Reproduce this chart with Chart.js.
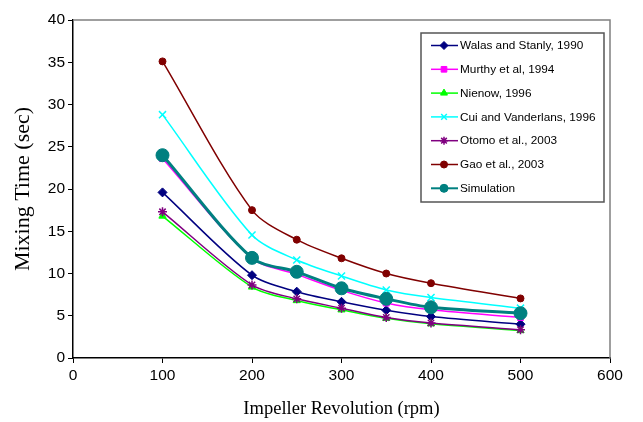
<!DOCTYPE html>
<html><head><meta charset="utf-8">
<script src="https://cdn.jsdelivr.net/npm/chart.js@4"></script>
<style>html,body{margin:0;padding:0;background:#fff}#wrap{width:643px;height:422px}</style>
</head><body><div id="wrap"><canvas id="c" width="643" height="422"></canvas></div>
<script>
// ---- data ----
const rpm = [100, 200, 250, 300, 350, 400, 500];
const seriesLabels = ['Walas and Stanly, 1990', 'Murthy et al, 1994', 'Nienow, 1996', 'Cui and Vanderlans, 1996', 'Otomo et al., 2003', 'Gao et al., 2003', 'Simulation'];
const walas      = [19.6, 9.8, 7.85, 6.65, 5.65, 4.9, 4.0];
const murthy     = [23.6, 11.8, 9.9, 8.0, 6.5, 5.7, 4.8];
const nienow     = [16.8, 8.4, 6.8, 5.7, 4.7, 4.05, 3.25];
const cui        = [28.8, 14.55, 11.6, 9.7, 8.05, 7.15, 5.9];
const otomo      = [17.3, 8.65, 7.0, 5.9, 4.8, 4.15, 3.35];
const gao        = [35.1, 17.5, 14.0, 11.8, 10.0, 8.85, 7.05];
const simulation = [24.0, 11.85, 10.2, 8.25, 7.0, 6.0, 5.3];
const xTickValues = [0, 100, 200, 300, 400, 500, 600];
const yTickValues = [0, 5, 10, 15, 20, 25, 30, 35, 40];
const xTitle = 'Impeller Revolution (rpm)';
const yTitle = 'Mixing Time (sec)';

// ---- styles ----
const seriesValues = [walas, murthy, nienow, cui, otomo, gao, simulation];
const styles = [
  {color:'#000080', point:'rectRot', r:4.5, bw:1, lw:1.5},
  {color:'#ff00ff', point:'rect', r:4.2, bw:1, lw:1.5},
  {color:'#00ff00', point:'triangle', r:4.2, bw:1, lw:1.5},
  {color:'#00ffff', point:'crossRot', r:5, bw:1.5, lw:1.5},
  {color:'#800080', point:'star', r:4.5, bw:1.5, lw:1.5},
  {color:'#800000', point:'circle', r:3.5, bw:1, lw:1.5},
  {color:'#008080', point:'circle', r:6.5, bw:1, lw:3}
];

const datasets = seriesLabels.map((label, i) => ({
  label,
  data: rpm.map((x, j) => ({x, y: seriesValues[i][j]})),
  borderColor: styles[i].color,
  backgroundColor: styles[i].color,
  pointBackgroundColor: styles[i].color,
  pointBorderColor: styles[i].color,
  pointStyle: styles[i].point,
  pointRadius: styles[i].r,
  pointBorderWidth: styles[i].bw,
  borderWidth: styles[i].lw,
  tension: 0.3,
  fill: false,
  order: seriesLabels.length - i
}));

const framePlugin = {
  id: 'frame',
  beforeDatasetsDraw(chart) {
    const {ctx, chartArea: a} = chart;
    ctx.save();
    ctx.strokeStyle = '#808080';
    ctx.lineWidth = 1.5;
    ctx.beginPath();
    ctx.moveTo(a.left, a.top);
    ctx.lineTo(a.right, a.top);
    ctx.lineTo(a.right, a.bottom);
    ctx.stroke();
    ctx.restore();
  }
};

const legendPlugin = {
  id: 'boxLegend',
  afterDraw(chart) {
    const {ctx, chartArea: a} = chart;
    const bx = a.right - 189, by = a.top + 13, bw = 183, bh = 169;
    ctx.save();
    ctx.fillStyle = '#fff';
    ctx.fillRect(bx, by, bw, bh);
    ctx.strokeStyle = '#555';
    ctx.lineWidth = 1.5;
    ctx.strokeRect(bx, by, bw, bh);
    chart.data.datasets.forEach((ds, i) => {
      const y = by + 12.5 + i * 23.8;
      ctx.strokeStyle = ds.borderColor;
      ctx.lineWidth = Math.min(ds.borderWidth, 2);
      ctx.beginPath();
      ctx.moveTo(bx + 10, y);
      ctx.lineTo(bx + 37, y);
      ctx.stroke();
      ctx.fillStyle = ds.pointBackgroundColor;
      ctx.strokeStyle = ds.pointBorderColor;
      ctx.lineWidth = ds.pointBorderWidth;
      Chart.helpers.drawPoint(ctx, {pointStyle: ds.pointStyle, radius: Math.min(ds.pointRadius, 4), rotation: 0, borderWidth: ds.pointBorderWidth}, bx + 23, y);
      ctx.fillStyle = '#000';
      ctx.font = '11.8px "Liberation Sans", Arial, sans-serif';
      ctx.textBaseline = 'middle';
      ctx.textAlign = 'left';
      ctx.fillText(ds.label, bx + 39, y + 0.5);
    });
    ctx.restore();
  }
};

new Chart(document.getElementById('c'), {
  type: 'line',
  data: {datasets},
  options: {
    responsive: false,
    animation: false,
    devicePixelRatio: 1,
    layout: {padding: {top: 20, right: 33, left: 0, bottom: 0}},
    plugins: {legend: {display: false}, tooltip: {enabled: false}},
    scales: {
      x: {
        type: 'linear', min: 0, max: 600,
        afterBuildTicks: s => { s.ticks = xTickValues.map(v => ({value: v})); },
        afterFit: s => { s.height = 64; },
        grid: {drawOnChartArea: false, drawTicks: true, tickLength: 5, color: '#000', tickWidth: 1},
        border: {color: '#000', width: 1.5},
        ticks: {color: '#000', padding: 3, font: {family: '"Liberation Sans", Arial, sans-serif', size: 15.5}, maxRotation: 0},
        title: {display: true, text: xTitle, color: '#000', padding: {top: 0, bottom: 2}, font: {family: '"Liberation Serif", "Times New Roman", serif', size: 18.5}}
      },
      y: {
        type: 'linear', min: 0, max: 40,
        afterBuildTicks: s => { s.ticks = yTickValues.map(v => ({value: v})); },
        afterFit: s => { s.width = 73; },
        grid: {drawOnChartArea: false, drawTicks: true, tickLength: 5, color: '#000', tickWidth: 1},
        border: {color: '#000', width: 1.5},
        ticks: {color: '#000', padding: 3, font: {family: '"Liberation Sans", Arial, sans-serif', size: 15.5}},
        title: {display: true, text: yTitle, color: '#000', padding: {top: 10, bottom: 0}, font: {family: '"Liberation Serif", "Times New Roman", serif', size: 22}}
      }
    }
  },
  plugins: [framePlugin, legendPlugin]
});
</script>
</body></html>
